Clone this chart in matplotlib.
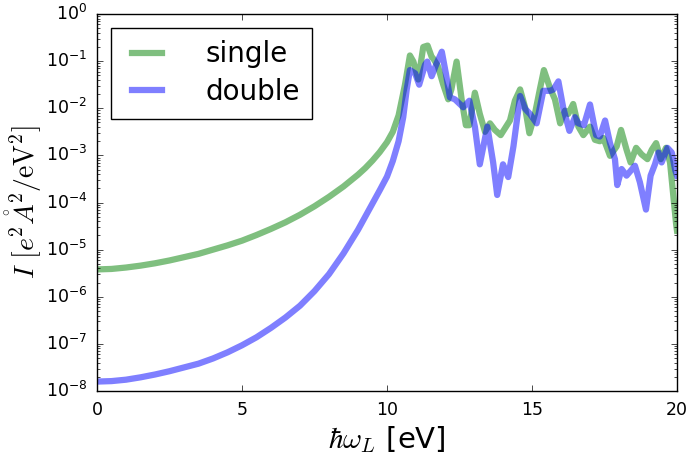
import numpy as np
import matplotlib
matplotlib.use("Agg")
import matplotlib.pyplot as plt

plt.style.use("classic")

# ---- data (x in eV, log10 of intensity) ----
x_single = [0.0, 0.5, 1.0, 1.5, 2.0, 2.5, 3.0, 3.5, 4.0, 4.5, 5.0, 5.5, 6.0, 6.5, 7.0, 7.5,
            8.0, 8.5, 9.0, 9.25, 9.5, 9.75, 10.0, 10.2, 10.4, 10.62, 10.79, 10.91, 11.08,
            11.25, 11.4, 11.54, 11.6, 11.75, 11.94, 12.11, 12.22, 12.4, 12.58, 12.72,
            12.84, 13.03, 13.2, 13.38, 13.55, 13.72, 13.92, 14.24, 14.41, 14.59, 14.76,
            14.91, 15.1, 15.28, 15.41, 15.62, 15.79, 15.97, 16.14, 16.25, 16.42, 16.6,
            16.77, 17.0, 17.17, 17.34, 17.46, 17.69, 17.92, 18.07, 18.26, 18.4, 18.59,
            18.78, 18.98, 19.13, 19.28, 19.44, 19.62, 19.76, 19.87, 19.97, 20.0]
logI_single = [-5.42, -5.41, -5.38, -5.34, -5.29, -5.23, -5.16, -5.09, -5.00, -4.91, -4.81,
               -4.69, -4.56, -4.42, -4.26, -4.08, -3.88, -3.66, -3.41, -3.27, -3.11, -2.93,
               -2.72, -2.50, -2.15, -1.50, -0.88, -1.01, -1.39, -0.70, -0.67, -0.91, -0.95,
               -1.10, -1.50, -1.81, -1.60, -1.01, -1.84, -2.36, -2.36, -1.67, -2.12, -2.50,
               -2.32, -2.46, -2.57, -2.26, -1.84, -1.60, -1.98, -2.53, -2.12, -1.57, -1.19,
               -1.57, -1.81, -2.32, -2.05, -2.12, -1.91, -2.39, -2.57, -2.39, -2.67, -2.70,
               -2.63, -3.01, -2.81, -2.46, -2.88, -3.15, -2.84, -2.98, -3.08, -2.88, -2.74,
               -3.08, -2.84, -3.15, -3.84, -4.46, -4.60]

x_double = [0.0, 0.5, 1.0, 1.5, 2.0, 2.5, 3.0, 3.5, 4.0, 4.5, 5.0, 5.5, 6.0, 6.5, 7.0, 7.5,
            8.0, 8.5, 9.0, 9.25, 9.5, 9.75, 10.0, 10.2, 10.4, 10.56, 10.68, 10.79, 10.97,
            11.11, 11.31, 11.39, 11.54, 11.71, 11.89, 12.03, 12.17, 12.34, 12.46, 12.63,
            12.84, 13.03, 13.2, 13.46, 13.66, 13.8, 14.0, 14.18, 14.36, 14.59, 14.76,
            14.93, 15.16, 15.39, 15.62, 15.74, 15.91, 16.08, 16.29, 16.48, 16.6, 16.79,
            17.0, 17.21, 17.34, 17.52, 17.69, 17.86, 17.94, 18.09, 18.26, 18.55, 18.72,
            18.93, 19.09, 19.24, 19.36, 19.47, 19.67, 19.82, 19.94, 20.0]
logI_double = [-7.80, -7.79, -7.76, -7.71, -7.65, -7.58, -7.50, -7.42, -7.31, -7.18, -7.03,
               -6.86, -6.66, -6.44, -6.19, -5.88, -5.52, -5.08, -4.58, -4.30, -4.02, -3.74,
               -3.45, -3.12, -2.70, -2.19, -1.60, -1.19, -1.26, -1.50, -1.08, -1.01, -1.32,
               -1.05, -0.80, -1.26, -1.77, -1.81, -1.88, -1.98, -1.84, -2.39, -3.19, -2.39,
               -3.15, -3.84, -3.19, -3.46, -2.81, -1.74, -2.01, -2.12, -2.32, -1.63, -1.63,
               -1.60, -1.43, -2.00, -2.48, -2.19, -2.32, -2.36, -1.92, -2.57, -2.60, -2.26,
               -2.74, -3.08, -3.63, -3.29, -3.43, -3.22, -3.57, -4.15, -3.43, -3.19, -2.94,
               -3.15, -2.84, -2.94, -3.32, -3.43]

labels = ["single", "double"]
xticks = [0, 5, 10, 15, 20]

I_single = 10.0 ** np.array(logI_single)
I_double = 10.0 ** np.array(logI_double)

fig = plt.figure(figsize=(6.88, 4.62), dpi=100, facecolor="white")
ax = fig.add_axes([97/688, 1-391/462, (677-97)/688, (391-14)/462])

ax.plot(x_single, I_single, color="g", lw=4.5, alpha=0.5, label=labels[0])
ax.plot(x_double, I_double, color="b", lw=4.5, alpha=0.5, label=labels[1])

ax.set_yscale("log")
ax.set_xlim(0, 20)
ax.set_ylim(1e-8, 1e0)
ax.set_xticks(xticks)
ax.tick_params(labelsize=12.5, pad=7)

ax.set_xlabel(r"$\hbar\omega_L$ [eV]", fontsize=21, labelpad=4)
ax.set_ylabel(r"$I\ [e^2\mathring{A}^2/\mathrm{eV}^2]$", fontsize=20)
ax.yaxis.set_label_coords(-0.092, 0.5)

leg = ax.legend(loc="upper left", fontsize=20, handlelength=1.7, borderpad=0.45,
                labelspacing=0.35, handletextpad=1.25, borderaxespad=0.5)
leg.get_frame().set_linewidth(1.0)

fig.savefig("out.png", dpi=100, facecolor="white")
